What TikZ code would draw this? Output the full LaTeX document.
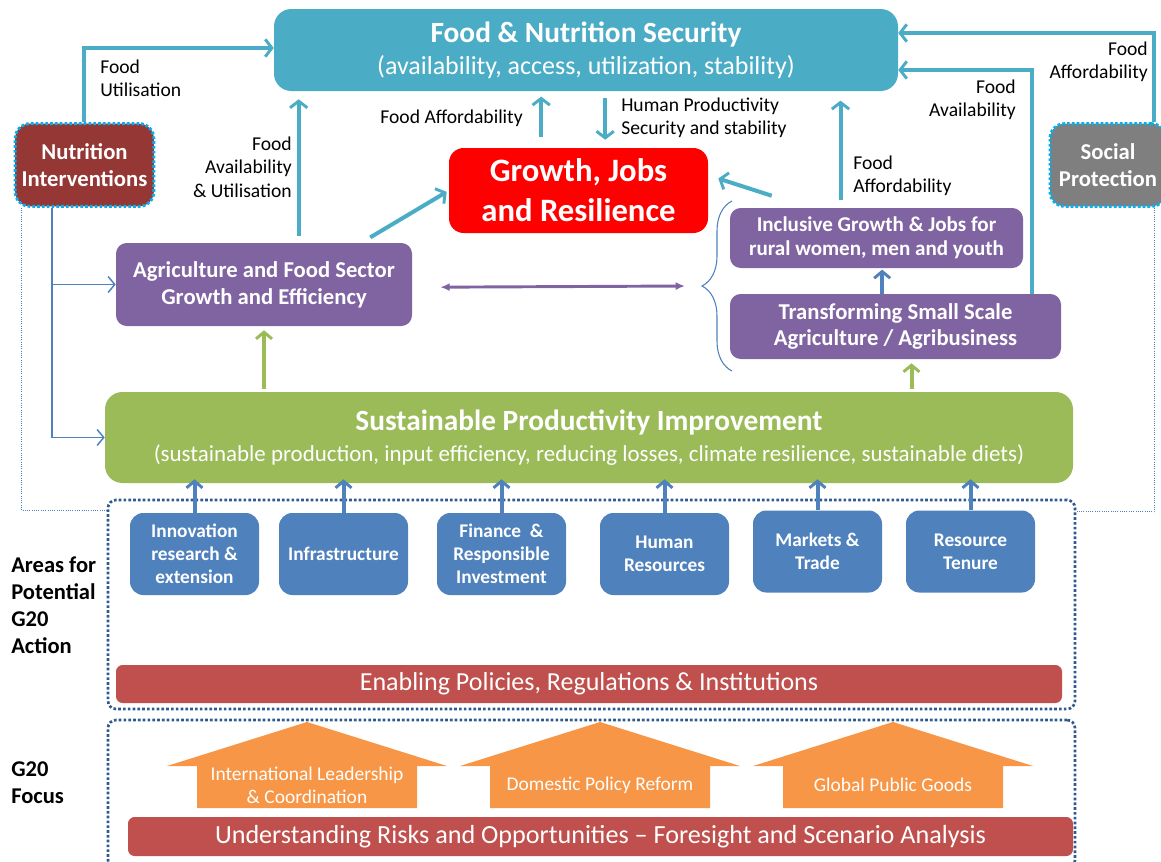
\documentclass[tikz,border=0pt]{standalone}
\usepackage{fontspec}
\setmainfont{Carlito}
\usetikzlibrary{arrows.meta,decorations.pathreplacing}

\definecolor{fnsteal}{HTML}{4BACC6}
\definecolor{nutred}{HTML}{953735}
\definecolor{socgray}{HTML}{7F7F7F}
\definecolor{grored}{HTML}{FF0000}
\definecolor{agripurple}{HTML}{8064A2}
\definecolor{prodgreen}{HTML}{9BBB59}
\definecolor{areablue}{HTML}{4F81BD}
\definecolor{barred}{HTML}{C0504D}
\definecolor{focusorange}{HTML}{F79646}
\definecolor{dotcyan}{HTML}{00B0F0}
\definecolor{framenavy}{HTML}{2F5A8E}

\tikzset{
  box/.style={rounded corners=8pt, text=white, align=center, inner sep=0pt},
  areabox/.style={box, fill=areablue, minimum width=96.75pt, minimum height=61.5pt,
    rounded corners=10pt, font=\fontsize{14.5}{17.3}\selectfont\bfseries},
  sidebox/.style={box, draw=dotcyan, line width=2.2pt, dash pattern=on 2pt off 1.6pt,
    minimum height=62pt, rounded corners=11pt, font=\fontsize{17}{20}\selectfont\bfseries},
  purplebox/.style={box, fill=agripurple, rounded corners=8pt},
  lbl/.style={inner sep=0pt, font=\fontsize{14.7}{17.5}\selectfont},
  sidelbl/.style={inner sep=0pt, align=left, font=\fontsize{16.9}{20.25}\selectfont\bfseries},
  dotframe/.style={draw=framenavy, line width=2pt, dash pattern=on 2pt off 1.6pt,
    rounded corners=6pt, inner sep=0pt},
  tealarr/.style={draw=fnsteal, line width=3pt,
    -{Straight Barb[length=5pt,width=13pt,line width=2.2pt]}},
  bluearr/.style={draw=areablue, line width=3pt,
    -{Straight Barb[length=5pt,width=12pt,line width=2.2pt]}},
  greenarr/.style={draw=prodgreen, line width=3pt,
    -{Straight Barb[length=5pt,width=12pt,line width=2.2pt]}},
  thinarr/.style={draw=areablue, line width=1.1pt,
    -{Straight Barb[length=5pt,width=12pt,line width=1.1pt]}},
  thindot/.style={draw=areablue, line width=0.7pt, densely dotted},
}

\begin{document}
\begin{tikzpicture}[x=0.75pt,y=-0.75pt]
\useasboundingbox (0,0) rectangle (1161,861);

% frames
\node[dotframe, minimum width=725.25pt, minimum height=156.75pt] (fra) at (591.5,604.5) {};
\node[dotframe, minimum width=725.25pt, minimum height=111pt] (frb) at (591.5,794) {};

% top level
\node[box, fill=fnsteal, minimum width=468pt, minimum height=61.5pt, rounded corners=13pt,
  font=\fontsize{19.5}{24}\selectfont] (fns) at (586,50)
  {{\fontsize{22}{24}\selectfont\bfseries Food \& Nutrition Security}\\
   (availability, access, utilization, stability)};
\node[sidebox, fill=nutred, minimum width=104pt] (nut) at (84.5,165) {Nutrition\\Interventions};
\node[sidebox, fill=socgray, minimum width=87pt] (soc) at (1108,165) {Social\\Protection};
\node[box, fill=grored, minimum width=194.25pt, minimum height=63.75pt, rounded corners=11pt,
  font=\fontsize{24.5}{30}\selectfont\bfseries] (gro) at (578.5,190.5) {Growth, Jobs\\and Resilience};

% middle level
\node[purplebox, minimum width=222pt, minimum height=62.25pt, font=\fontsize{17}{20}\selectfont\bfseries]
  (agri) at (264,284.5) {Agriculture and Food Sector\\Growth and Efficiency};
\node[purplebox, minimum width=219.75pt, minimum height=45pt, font=\fontsize{15.8}{18}\selectfont\bfseries]
  (inc) at (876.5,238) {Inclusive Growth \& Jobs for\\rural women, men and youth};
\node[purplebox, minimum width=248.25pt, minimum height=48.75pt, font=\fontsize{17}{20}\selectfont\bfseries]
  (tra) at (895.5,326.5) {Transforming Small Scale\\Agriculture / Agribusiness};
\node[box, fill=prodgreen, minimum width=726pt, minimum height=68.25pt, rounded corners=13pt,
  font=\fontsize{17.2}{23.25}\selectfont] (grn) at (589,437.5)
  {{\fontsize{22}{23.25}\selectfont\bfseries Sustainable Productivity Improvement}\\
   (sustainable production, input efficiency, reducing losses, climate resilience, sustainable diets)};

% areas for action
\node[areabox] (inv) at (194.5,554) {Innovation\\research \&\\extension};
\node[areabox] (inf) at (343.5,554) {Infrastructure};
\node[areabox] (fin) at (501.5,554) {Finance ~\&\\Responsible\\Investment};
\node[areabox] (hum) at (664.5,554) {Human\\Resources};
\node[areabox] (mkt) at (817.5,551.5) {Markets \&\\Trade};
\node[areabox] (ten) at (970.5,551.5) {Resource\\Tenure};
\node[box, fill=barred, minimum width=709.5pt, minimum height=28.5pt, rounded corners=5pt,
  font=\fontsize{19.5}{22}\selectfont] (enb) at (589,684) {Enabling Policies, Regulations \& Institutions};

% g20 focus
\foreach \cx/\nm/\txt in {307/ilc/{International Leadership\\\& Coordination}, 600/dpr/{Domestic Policy Reform}, 893/gpg/{Global Public Goods}} {
  \fill[focusorange] (\cx-110,808) -- (\cx-110,766) -- (\cx-140,766) -- (\cx,722)
    -- (\cx+140,766) -- (\cx+110,766) -- (\cx+110,808) -- cycle;
  \node[text=white, align=center, inner sep=0pt, font=\fontsize{14.6}{17}\selectfont] (\nm) at (\cx,785) {\txt};
}
\node[box, fill=barred, minimum width=708.75pt, minimum height=29.25pt, rounded corners=5pt,
  font=\fontsize{19.6}{22}\selectfont] (urs) at (600.5,836.5)
  {Understanding Risks and Opportunities -- Foresight and Scenario Analysis};

% side labels
\node[sidelbl, anchor=west] (aga) at (11,605.5) {Areas for\\Potential\\G20\\Action};
\node[sidelbl, anchor=west] (gfo) at (11,783) {G20\\Focus};

% teal connectors
\draw[tealarr] ([xshift=-0.4pt]nut.north) |- ([yshift=1.5pt]fns.west);
\draw[tealarr] ([xshift=-9.75pt]soc.north east) |- ([yshift=12.75pt]fns.east);
\draw[tealarr] ([xshift=-21.75pt]tra.north east) |- ([yshift=-15pt]fns.east);
\draw[tealarr, shorten <=6pt, shorten >=7pt] ([xshift=-27pt]inc.north) -- ([xshift=-27pt]inc.north |- fns.south);
\draw[tealarr, shorten <=5pt, shorten >=6pt] ([xshift=26pt]agri.north) -- ([xshift=26pt]agri.north |- fns.south);
\draw[tealarr] ([xshift=-31.5pt,yshift=4pt]agri.north east) -- ([xshift=-1.5pt,yshift=-1pt]gro.west);
\draw[tealarr] ([xshift=31.5pt,yshift=9pt]inc.north west) -- ([xshift=7.5pt,yshift=9pt]gro.east);
\draw[tealarr, shorten <=8pt, shorten >=4pt] ([xshift=-28pt]gro.north) -- ([xshift=-28pt]gro.north |- fns.south);
\draw[tealarr, shorten <=5pt, shorten >=6pt] ([xshift=20pt]gro.north |- fns.south) -- ([xshift=20pt]gro.north);

% labels
\node[lbl, anchor=west, align=left] (lfu) at (100,78.5) {Food\\Utilisation};
\node[lbl, anchor=east, align=right] (lfau) at (292,167) {Food\\Availability\\\& Utilisation};
\node[lbl, anchor=east] (lfa) at (523,118) {Food Affordability};
\node[lbl, anchor=west, align=left] (lhp) at (621,118) {Human Productivity\\Security and stability};
\node[lbl, anchor=west, align=left] (lfai) at (853,176) {Food\\Affordability};
\node[lbl, anchor=east, align=right] (lfav) at (1016,99.5) {Food\\Availability};
\node[lbl, anchor=east, align=right] (lfas) at (1148,62) {Food\\Affordability};

% brace and purple link
\coordinate (brc) at (702,286);
\draw[areablue, line width=0.8pt, decorate, decoration={brace, amplitude=22.5pt}] (732,371) -- (732,201);
\draw[agripurple, line width=2.2pt, {Latex[length=7pt,width=6pt]}-{Latex[length=7pt,width=6pt]}]
  ([xshift=21pt,yshift=-2pt]agri.east) -- ([xshift=-12.75pt]brc);

% other arrows
\draw[bluearr, shorten >=1pt] ([xshift=-10pt]tra.north) -- ([xshift=-10pt]tra.north |- inc.south);
\draw[greenarr, shorten <=2pt, shorten >=3pt] (agri.south |- grn.north) -- (agri.south);
\draw[greenarr, shorten <=2pt, shorten >=3pt] ([xshift=12pt]tra.south |- grn.north) -- ([xshift=12pt]tra.south);
\foreach \a in {inv,inf,fin,hum,mkt,ten}
  \draw[bluearr, shorten >=-3pt] (\a.north) -- (\a.north |- grn.south);

% nutrition links
\draw[thinarr] ([xshift=-24.4pt]nut.south) |- (grn.west);
\draw[thinarr] ([xshift=-24.4pt]nut.south |- agri.west) -- (agri.west);
\draw[thindot] ([xshift=6pt]nut.south west) |- ([yshift=-9pt]fra.north west);
\draw[thindot] ([xshift=-9.75pt]soc.south east) |- ([yshift=-9.75pt]fra.north east);

\end{tikzpicture}
\end{document}
